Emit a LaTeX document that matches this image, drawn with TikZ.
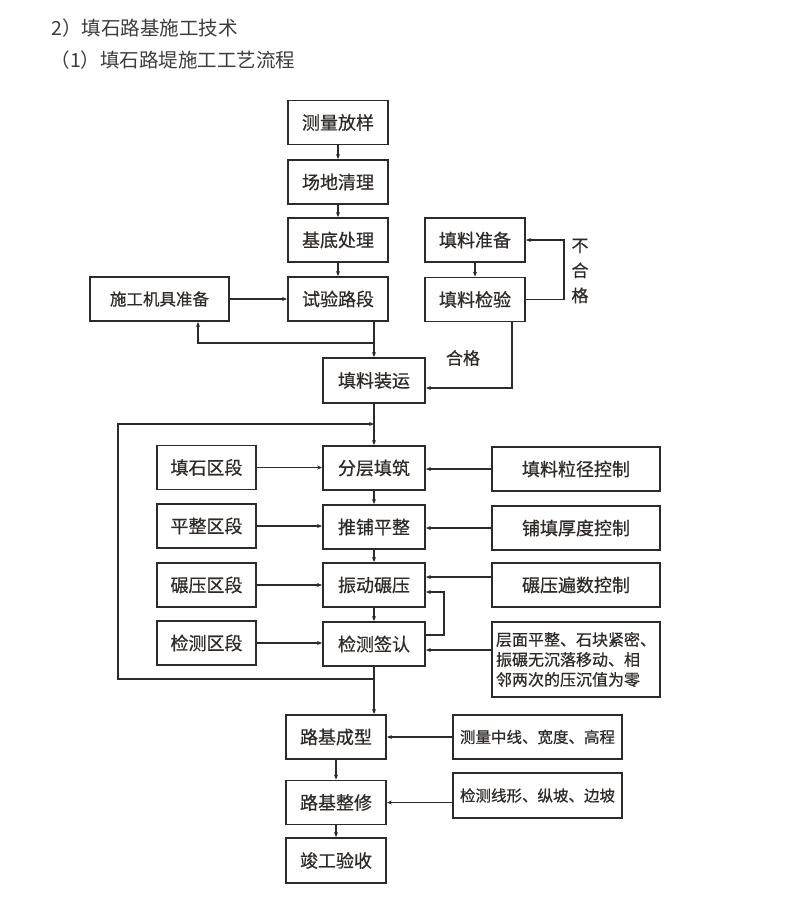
\documentclass[tikz,border=0pt]{standalone}
\usepackage{fontspec}
\setmainfont{Noto Sans CJK SC}
\newfontfamily\boxfont[FakeBold = 0.6]{Noto Sans CJK SC}
\usetikzlibrary{arrows.meta}
\definecolor{inkc}{HTML}{2E2A27}
\definecolor{titlec}{HTML}{3C3C3C}

\begin{document}
\begin{tikzpicture}[x = 1pt, y = -1pt, line width = 1.3pt, color = inkc,
		>={Stealth[length = 5pt, width = 4pt]},
		box/.style = {draw = inkc, line width = 1.8pt, minimum width = 100pt, minimum height = 44pt,
			inner sep = 0pt, text = inkc, font = \boxfont\fontsize{18}{20}\selectfont},
		mid/.style = {box, minimum width = 102pt},
		side/.style = {box, minimum width = 99pt},
		ctrl/.style = {box, minimum width = 168pt},
		lab/.style = {text = inkc, inner sep = 0pt, font = \boxfont\fontsize{17}{25}\selectfont},
		title/.style = {anchor = west, inner sep = 0pt, text = titlec, font = \fontsize{19.5}{22}\selectfont}]
	
		\useasboundingbox (0, 0) rectangle (795, 898);
		
		\node [title] (t1) at (51, 28) {2）填石路基施工技术};
		\node [title] (t2) at (50, 60) {（1）填石路堤施工工艺流程};
		
		\node [box] (cl) at (338, 122.5) {测量放样};
		\node [box] (cd) at (338, 182) {场地清理};
		\node [box] (jd) at (338, 240) {基底处理};
		\node [box] (sy) at (338, 299) {试验路段};
		\node [box, minimum width = 139pt, font = \boxfont\fontsize{16.5}{20}\selectfont] (sg) at (159.5, 299) {施工机具准备};
		\node [box] (zb) at (475, 240) {填料准备};
		\node [box] (jy) at (475, 299.5) {填料检验};
		\node [mid, minimum height = 45pt] (zy) at (374, 380.5) {填料装运};
		
		\draw [->] (cl) -- (cd);
		\draw [->] (cd) -- (jd);
		\draw [->] (jd) -- (sy);
		\draw [->] (sg) -- (sy);
		
		\coordinate (sj) at (374, 343);
		\coordinate (sk) at (198, 343);
		\draw [->] (sy.south -| sj) -- (sj) -- (sk) -- (sk |- sg.south);
		\draw [->] (sj) -- (zy.north);
		
		\draw [->] (zb) -- (jy);
		\draw [->] (jy.east) -- ++(38, 0) |- (zb.east);
		\node [lab, align = center] (bh) at (580, 271) {不\\合\\格};
		
		\coordinate (hg) at (512, 388);
		\draw [->] (jy.south -| hg) -- (hg) -- (hg -| zy.east);
		\node [lab] (hl) at (463, 358) {合格};
		
		\node [mid] (fc) at (374, 468) {分层填筑};
		\node [mid] (tp) at (374, 527) {推铺平整};
		\node [mid] (zd) at (374, 585) {振动碾压};
		\node [mid] (jc) at (374, 644) {检测签认};
		
		\node [side] (q1) at (206.5, 467.5) {填石区段};
		\node [side] (q2) at (206.5, 526) {平整区段};
		\node [side] (q3) at (206.5, 585) {碾压区段};
		\node [side] (q4) at (206.5, 643) {检测区段};
		
		\node [ctrl] (k1) at (576, 469) {填料粒径控制};
		\node [ctrl] (k2) at (576, 528) {铺填厚度控制};
		\node [ctrl] (k3) at (576, 585) {碾压遍数控制};
		\node [ctrl, minimum height = 75pt, align = left, font = \boxfont\fontsize{16}{20}\selectfont] (k4) at (576, 659.5)
			{层面平整、石块紧密、\\振碾无沉落移动、相\\邻两次的压沉值为零};
		
		\coordinate (hs) at (374, 424);
		\coordinate (hd) at (374, 679);
		\draw (zy) -- (hs);
		\draw [->] (hs) -- (fc);
		\draw [->] (fc) -- (tp);
		\draw [->] (tp) -- (zd);
		\draw [->] (zd) -- (jc);
		\draw (jc) -- (hd);
		\draw [->] (hd) -- ++(-256, 0) |- (hs);
		
		\draw [->] (q1.east) -- (q1.east -| fc.west);
		\draw [->] (q2.east) -- (q2.east -| tp.west);
		\draw [->] (q3.east) -- (q3.east -| zd.west);
		\draw [->] (q4.east) -- (q4.east -| jc.west);
		
		\draw [->] (k1.west) -- (k1.west -| fc.east);
		\draw [->] (k2.west) -- (k2.west -| tp.east);
		\draw [->] ([yshift = 8pt]k3.west) -- ([yshift = 8pt]k3.west -| zd.east);
		\draw [<-] ([yshift = -6pt]jc.east) -- ([yshift = -6pt]jc.east -| k4.west);
		\draw [->] ([yshift = 9pt]jc.east) -- ++(18, 0) |- ([yshift = -7pt]zd.east);
		
		\node [box] (lx) at (336, 737) {路基成型};
		\node [box] (lz) at (336, 802.5) {路基整修};
		\node [box, minimum height = 45pt] (jg) at (336, 860.5) {竣工验收};
		\node [box, minimum width = 169pt, font = \boxfont\fontsize{15.5}{20}\selectfont] (m1) at (537.5, 737) {测量中线、宽度、高程};
		\node [box, minimum width = 169pt, minimum height = 45pt, font = \boxfont\fontsize{15.5}{20}\selectfont] (m2) at (537.5, 795.5) {检测线形、纵坡、边坡};
		
		\draw [->] (hd) -- (hd |- lx.north);
		\draw [->] (lx) -- (lz);
		\draw [->] (lz) -- (jg);
		\draw [->] (m1) -- (lx);
		\draw [->] (lz.east -| m2.west) -- (lz.east);
	
	\end{tikzpicture}
\end{document}
